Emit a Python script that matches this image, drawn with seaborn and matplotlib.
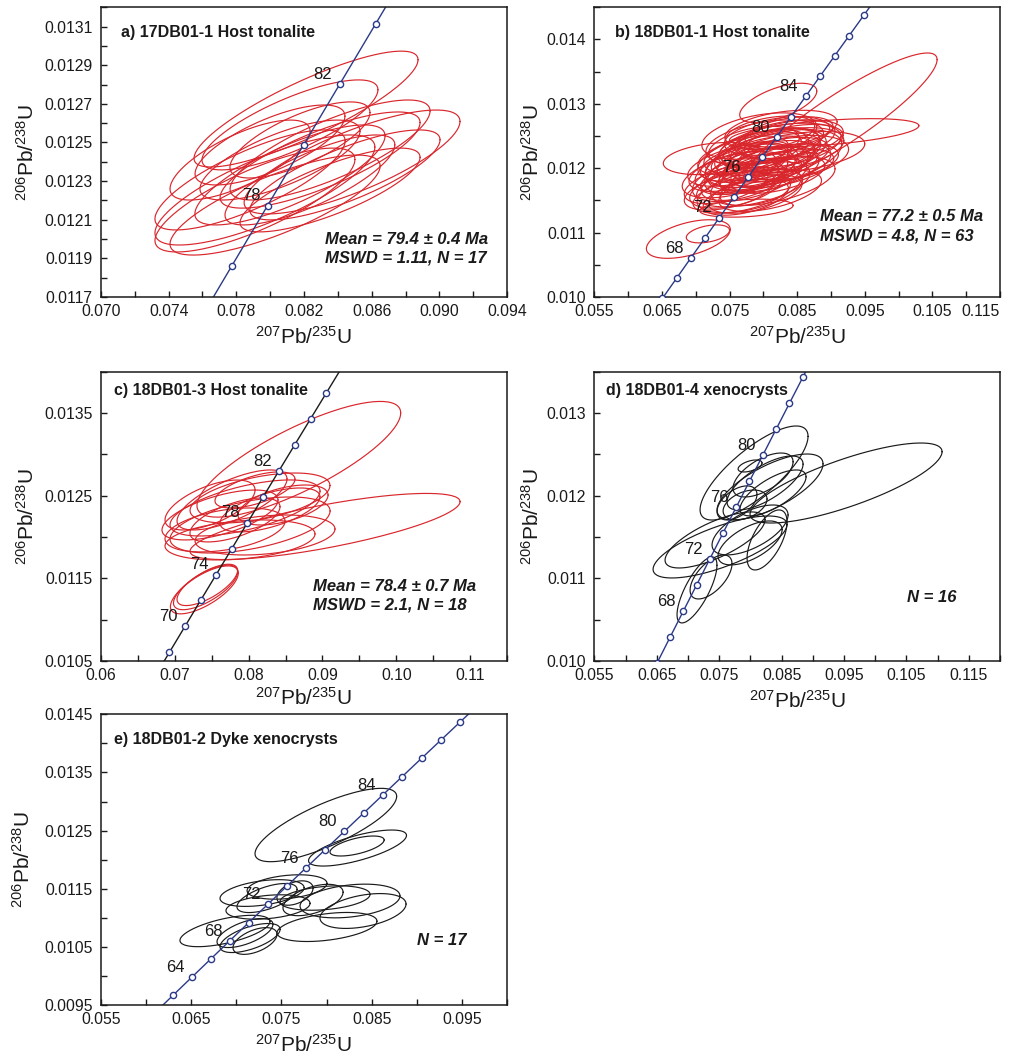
import numpy as np
import pandas as pd
import matplotlib
matplotlib.use("Agg")
import matplotlib.pyplot as plt
import seaborn as sns
from matplotlib.ticker import FixedLocator, FormatStrFormatter

# ---------------- data (ratio, 2s error, ratio, 2s error, rho) ----------------
# panel a: 17DB01-1 Host tonalite
a_x = [0.08212, 0.08117, 0.08484, 0.08354, 0.08295, 0.08117, 0.07969, 0.07910, 0.08029,
       0.07881, 0.08058, 0.08176, 0.08235, 0.08354, 0.07822, 0.07999, 0.08442]
a_sx = [0.00662, 0.00520, 0.00638, 0.00591, 0.00591, 0.00562, 0.00650, 0.00591, 0.00621,
        0.00562, 0.00473, 0.00414, 0.00502, 0.00532, 0.00414, 0.00443, 0.00562]
a_y = [0.012673, 0.012591, 0.012399, 0.012461, 0.012409, 0.012332, 0.012254, 0.012202, 0.012176,
       0.012306, 0.012409, 0.012513, 0.012306, 0.012254, 0.012409, 0.012487, 0.012332]
a_sy = [0.000300, 0.000233, 0.000269, 0.000259, 0.000249, 0.000259, 0.000285, 0.000269, 0.000259,
        0.000259, 0.000207, 0.000197, 0.000233, 0.000217, 0.000207, 0.000207, 0.000233]
a_rho = [0.85, 0.78, 0.78, 0.78, 0.78, 0.78, 0.78, 0.78, 0.78,
         0.78, 0.72, 0.72, 0.78, 0.78, 0.72, 0.72, 0.78]

# panel b: 18DB01-1 Host tonalite (63 analyses)
b_x = [0.09134, 0.0890, 0.0822, 0.0689, 0.0775, 0.0718, 0.0726,
       0.0780, 0.0795, 0.0812, 0.0770, 0.0825, 0.0805, 0.0760, 0.0790, 0.0840, 0.0815,
       0.0775, 0.0800, 0.0785, 0.0830, 0.0765, 0.0808, 0.0820, 0.0750, 0.0798, 0.0835,
       0.0772, 0.0788, 0.0818, 0.0845, 0.0758, 0.0802, 0.0782, 0.0828, 0.0768, 0.0810,
       0.0792, 0.0850, 0.0776, 0.0822, 0.0745, 0.0806, 0.0838, 0.0786, 0.0762, 0.0814,
       0.0796, 0.0832, 0.0770, 0.0804, 0.0826, 0.0780, 0.0842, 0.0755, 0.0816, 0.0794,
       0.0774, 0.0810, 0.0836, 0.0784, 0.0800, 0.0820]
b_sx = [0.01435, 0.0140, 0.0057, 0.0062, 0.0069, 0.0032, 0.0074,
        0.0067, 0.0081, 0.0073, 0.0062, 0.0090, 0.0065, 0.0069, 0.0056, 0.0078, 0.0101,
        0.0076, 0.0067, 0.0084, 0.0067, 0.0058, 0.0074, 0.0078, 0.0067, 0.0095, 0.0084,
        0.0065, 0.0069, 0.0062, 0.0073, 0.0078, 0.0087, 0.0059, 0.0076, 0.0072, 0.0066,
        0.0074, 0.0100, 0.0081, 0.0069, 0.0062, 0.0078, 0.0065, 0.0067, 0.0074, 0.0092,
        0.0060, 0.0074, 0.0067, 0.0072, 0.0083, 0.0078, 0.0069, 0.0065, 0.0067, 0.0085,
        0.0063, 0.0076, 0.0090, 0.0072, 0.0064, 0.0080]
b_y = [0.01275, 0.01255, 0.013014, 0.0109, 0.01138, 0.01098, 0.01215,
       0.01195, 0.01210, 0.01225, 0.01180, 0.01235, 0.01205, 0.01170, 0.01190, 0.01245, 0.01215,
       0.01200, 0.01230, 0.01175, 0.01220, 0.01185, 0.01195, 0.01250, 0.01165, 0.01220, 0.01230,
       0.01210, 0.01160, 0.01208, 0.01240, 0.01190, 0.01240, 0.01215, 0.01200, 0.01160, 0.01255,
       0.01200, 0.01225, 0.01185, 0.01190, 0.01175, 0.01225, 0.01255, 0.01235, 0.01205, 0.01180,
       0.01170, 0.01245, 0.01220, 0.01212, 0.01260, 0.01165, 0.01210, 0.01195, 0.01235, 0.01250,
       0.01155, 0.01165, 0.01215, 0.01225, 0.01188, 0.01205]
b_sy = [0.00104, 0.00022, 0.000306, 0.0003, 0.00014, 0.00014, 0.00025,
        0.00035, 0.00040, 0.00030, 0.00030, 0.00035, 0.00028, 0.00032, 0.00025, 0.00030, 0.00045,
        0.00038, 0.00030, 0.00035, 0.00028, 0.00026, 0.00032, 0.00030, 0.00030, 0.00042, 0.00033,
        0.00030, 0.00030, 0.00026, 0.00028, 0.00036, 0.00035, 0.00027, 0.00030, 0.00030, 0.00026,
        0.00034, 0.00032, 0.00037, 0.00029, 0.00030, 0.00036, 0.00025, 0.00030, 0.00033, 0.00038,
        0.00028, 0.00030, 0.00030, 0.00031, 0.00030, 0.00034, 0.00028, 0.00031, 0.00028, 0.00036,
        0.00028, 0.00032, 0.00036, 0.00033, 0.00027, 0.00033]
b_rho = [0.90, 0.50, 0.60, 0.50, 0.30, 0.40, 0.30,
         0.5, 0.5, 0.4, 0.5, 0.4, 0.5, 0.5, 0.4, 0.4, 0.5,
         0.5, 0.4, 0.5, 0.4, 0.5, 0.5, 0.4, 0.5, 0.5, 0.4,
         0.5, 0.5, 0.4, 0.4, 0.5, 0.4, 0.5, 0.5, 0.5, 0.4,
         0.5, 0.4, 0.5, 0.5, 0.5, 0.5, 0.4, 0.4, 0.5, 0.5,
         0.5, 0.4, 0.5, 0.5, 0.4, 0.5, 0.4, 0.5, 0.4, 0.4,
         0.5, 0.5, 0.4, 0.5, 0.5, 0.5]

# panel c: 18DB01-3 Host tonalite
c_x = [0.0868, 0.09035, 0.07417, 0.07440, 0.07400, 0.07775, 0.07951, 0.07612, 0.08154,
       0.07680, 0.08019, 0.07883, 0.08222, 0.07815, 0.08289, 0.08086, 0.07477, 0.08466]
c_sx = [0.0138, 0.01829, 0.00435, 0.00410, 0.00460, 0.00745, 0.01016, 0.00786, 0.00948,
        0.00813, 0.01084, 0.01016, 0.00948, 0.00610, 0.00677, 0.00542, 0.00610, 0.00610]
c_y = [0.01294, 0.012127, 0.01139, 0.01142, 0.01136, 0.012448, 0.012351, 0.012266, 0.012472,
       0.012085, 0.012145, 0.011964, 0.012024, 0.012206, 0.012327, 0.012569, 0.012387, 0.012387]
c_sy = [0.0007, 0.0004, 0.00027, 0.00025, 0.00029, 0.000363, 0.000339, 0.000302, 0.000302,
        0.000266, 0.000339, 0.000242, 0.000242, 0.000266, 0.000266, 0.000218, 0.000302, 0.000242]
c_rho = [0.80, 0.75, 0.70, 0.70, 0.70, 0.7, 0.6, 0.6, 0.5,
         0.4, 0.5, 0.3, 0.3, 0.6, 0.6, 0.6, 0.6, 0.5]

# panel d: 18DB01-4 xenocrysts
d_x = [0.09533, 0.08059, 0.07995, 0.07514, 0.07434, 0.07145, 0.07370, 0.07995,
       0.07995, 0.08315, 0.08235, 0.08203, 0.07915, 0.08363, 0.08267, 0.07786]
d_sx = [0.01538, 0.00865, 0.00192, 0.01073, 0.00801, 0.00320, 0.00336, 0.00609,
        0.00513, 0.00849, 0.00609, 0.00481, 0.00352, 0.00529, 0.00320, 0.00320]
d_y = [0.012153, 0.012274, 0.012359, 0.011379, 0.011464, 0.010859, 0.011016, 0.011585,
       0.011428, 0.012105, 0.012153, 0.012250, 0.011887, 0.012033, 0.011464, 0.011912]
d_sy = [0.000484, 0.000569, 0.0000726, 0.000375, 0.000339, 0.000399, 0.000266, 0.000302,
        0.000266, 0.000399, 0.000327, 0.000266, 0.000181, 0.000278, 0.000363, 0.000206]
d_rho = [0.78, 0.78, 0.5, 0.72, 0.72, 0.75, 0.6, 0.6,
         0.6, 0.7, 0.7, 0.6, 0.4, 0.7, 0.6, 0.5]

# panel e: 18DB01-2 Dyke xenocrysts
e_x = [0.07992, 0.08343, 0.08338, 0.06874, 0.07152, 0.07207, 0.07096, 0.08005, 0.08404,
       0.08260, 0.07983, 0.07285, 0.07351, 0.07562, 0.07650, 0.07340, 0.07850]
e_sx = [0.00785, 0.00543, 0.00300, 0.00499, 0.00333, 0.00244, 0.00310, 0.00554, 0.00477,
        0.00554, 0.00499, 0.00466, 0.00466, 0.00443, 0.00200, 0.00333, 0.00333]
e_y = [0.012596, 0.012200, 0.012235, 0.010773, 0.010652, 0.010601, 0.010738, 0.010842, 0.011117,
       0.011289, 0.011340, 0.011426, 0.011186, 0.011530, 0.011426, 0.011340, 0.011306]
e_sy = [0.000631, 0.000310, 0.000172, 0.000270, 0.000250, 0.000230, 0.000250, 0.000250, 0.000300,
        0.000290, 0.000210, 0.000230, 0.000210, 0.000210, 0.000210, 0.000250, 0.000270]
e_rho = [0.78, 0.7, 0.6, 0.6, 0.6, 0.5, 0.6, 0.4, 0.4,
         0.3, 0.3, 0.4, 0.3, 0.3, 0.4, 0.6, 0.5]

titles = ["a) 17DB01-1 Host tonalite", "b) 18DB01-1 Host tonalite",
          "c) 18DB01-3 Host tonalite", "d) 18DB01-4 xenocrysts",
          "e) 18DB01-2 Dyke xenocrysts"]
stats = [["Mean = 79.4 \u00b1 0.4 Ma", "MSWD = 1.11, N = 17"],
         ["Mean = 77.2 \u00b1 0.5 Ma", "MSWD = 4.8, N = 63"],
         ["Mean = 78.4 \u00b1 0.7 Ma", "MSWD = 2.1, N = 18"],
         ["N = 16"],
         ["N = 17"]]
age_labels = [[78, 82], [68, 72, 76, 80, 84], [70, 74, 78, 82], [68, 72, 76, 80],
              [64, 68, 72, 76, 80, 84]]
marker_ages = list(range(56, 100, 2))

x_major = [[0.070, 0.074, 0.078, 0.082, 0.086, 0.090, 0.094],
           [0.055, 0.065, 0.075, 0.085, 0.095, 0.105, 0.115],
           [0.06, 0.07, 0.08, 0.09, 0.10, 0.11],
           [0.055, 0.065, 0.075, 0.085, 0.095, 0.105, 0.115],
           [0.055, 0.065, 0.075, 0.085, 0.095]]
x_minor = [[0.072, 0.076, 0.080, 0.084, 0.088, 0.092],
           [0.060, 0.070, 0.080, 0.090, 0.100, 0.110],
           [0.065, 0.075, 0.085, 0.095, 0.105, 0.115],
           [0.060, 0.070, 0.080, 0.090, 0.100, 0.110, 0.120],
           [0.060, 0.070, 0.080, 0.090, 0.100]]
y_major = [[0.0117, 0.0119, 0.0121, 0.0123, 0.0125, 0.0127, 0.0129, 0.0131],
           [0.010, 0.011, 0.012, 0.013, 0.014],
           [0.0105, 0.0115, 0.0125, 0.0135],
           [0.010, 0.011, 0.012, 0.013],
           [0.0095, 0.0105, 0.0115, 0.0125, 0.0135, 0.0145]]
y_minor = [[0.0118, 0.0120, 0.0122, 0.0124, 0.0126, 0.0128, 0.0130, 0.0132],
           [0.0105, 0.0115, 0.0125, 0.0135, 0.0145],
           [0.011, 0.012, 0.013, 0.014],
           [0.0105, 0.0115, 0.0125, 0.0135],
           [0.010, 0.011, 0.012, 0.013, 0.014]]
xlims = [(0.070, 0.094), (0.055, 0.115), (0.06, 0.115), (0.055, 0.120), (0.055, 0.100)]
ylims = [(0.0117, 0.0132), (0.010, 0.0145), (0.0105, 0.0140), (0.010, 0.0135), (0.0095, 0.0145)]
x_fmt = ["%.3f", "%.3f", "%.2f", "%.3f", "%.3f"]
y_fmt = ["%.4f", "%.3f", "%.4f", "%.3f", "%.4f"]

# ---------------- style ----------------
sns.set_style("white")
plt.rcParams["font.family"] = ["Liberation Sans", "DejaVu Sans"]
plt.rcParams["mathtext.fontset"] = "custom"
plt.rcParams["mathtext.rm"] = "Liberation Sans"
plt.rcParams["mathtext.it"] = "Liberation Sans:italic"
plt.rcParams["mathtext.bf"] = "Liberation Sans:bold"
plt.rcParams["axes.edgecolor"] = "#1a1a1a"
plt.rcParams["axes.linewidth"] = 1.1

RED = "#d9262c"
NAVY = "#2b3a87"
BLACK = "#1a1a1a"
L238 = 1.55125e-10
L235 = 9.8485e-10


def ellipse_frame(xs, sxs, ys, sys_, rhos, n=160):
    t = np.linspace(0, 2 * np.pi, n)
    rows = []
    for i, (x, sx, y, sy, r) in enumerate(zip(xs, sxs, ys, sys_, rhos)):
        ex = x + sx * np.cos(t)
        ey = y + sy * (r * np.cos(t) + np.sqrt(1 - r * r) * np.sin(t))
        rows.append(pd.DataFrame({"X": ex, "Y": ey, "id": i}))
    return pd.concat(rows, ignore_index=True)


fig = plt.figure(figsize=(10.13, 10.55), dpi=100)
positions = [[0.0997, 0.7185, 0.4008, 0.2746],
             [0.5867, 0.7185, 0.4005, 0.2746],
             [0.0997, 0.3735, 0.4008, 0.2742],
             [0.5867, 0.3735, 0.4005, 0.2742],
             [0.0997, 0.0474, 0.4008, 0.2755]]
datasets = [(a_x, a_sx, a_y, a_sy, a_rho), (b_x, b_sx, b_y, b_sy, b_rho),
            (c_x, c_sx, c_y, c_sy, c_rho), (d_x, d_sx, d_y, d_sy, d_rho),
            (e_x, e_sx, e_y, e_sy, e_rho)]
ell_colors = [RED, RED, RED, BLACK, BLACK]
line_colors = [NAVY, NAVY, BLACK, NAVY, NAVY]
title_pos = [(0.049, 0.912), (0.051, 0.912), (0.033, 0.934), (0.029, 0.934), (0.033, 0.915)]
stat_pos = [(0.552, 0.200, 0.135), (0.556, 0.277, 0.211), (0.522, 0.259, 0.194),
            (0.770, 0.218, None), (0.778, 0.221, None)]
ylab_x = [-0.155, -0.126, -0.156, -0.126, -0.165]
xlab_y = [-0.10, -0.10, -0.09, -0.10, -0.10]

t_curve = np.linspace(40e6, 120e6, 400)
curve = pd.DataFrame({"X": np.exp(L235 * t_curve) - 1, "Y": np.exp(L238 * t_curve) - 1})
mk_t = np.array(marker_ages) * 1e6
marks = pd.DataFrame({"X": np.exp(L235 * mk_t) - 1, "Y": np.exp(L238 * mk_t) - 1})

for k in range(5):
    ax = fig.add_axes(positions[k])
    df = ellipse_frame(*datasets[k])
    sns.lineplot(data=df, x="X", y="Y", units="id", estimator=None, sort=False,
                 color=ell_colors[k], lw=0.85, ax=ax, legend=False)
    sns.lineplot(data=curve, x="X", y="Y", sort=False, color=line_colors[k], lw=1.0,
                 ax=ax, legend=False)
    sns.scatterplot(data=marks, x="X", y="Y", marker="o", s=20, facecolor="white",
                    edgecolor=NAVY, linewidth=1.0, ax=ax, legend=False, zorder=5)
    for age in age_labels[k]:
        tt = age * 1e6
        ax.annotate(str(age), (np.exp(L235 * tt) - 1, np.exp(L238 * tt) - 1),
                    xytext=(-12, 7), textcoords="offset points", ha="center", va="center",
                    fontsize=12, color=BLACK, zorder=6)
    ax.set_xlim(*xlims[k])
    ax.set_ylim(*ylims[k])
    ax.xaxis.set_major_locator(FixedLocator(x_major[k]))
    ax.xaxis.set_minor_locator(FixedLocator(x_minor[k]))
    ax.yaxis.set_major_locator(FixedLocator(y_major[k]))
    ax.yaxis.set_minor_locator(FixedLocator(y_minor[k]))
    ax.xaxis.set_major_formatter(FormatStrFormatter(x_fmt[k]))
    ax.yaxis.set_major_formatter(FormatStrFormatter(y_fmt[k]))
    ax.tick_params(which="both", direction="in", length=4, width=1.0, color=BLACK,
                   bottom=True, left=True, top=False, right=False)
    ax.tick_params(axis="x", which="major", labelsize=11.3, pad=5, labelcolor=BLACK)
    ax.tick_params(axis="y", which="major", labelsize=11.3, pad=6, labelcolor=BLACK)
    ax.set_xlabel("$^{207}$Pb/$^{235}$U", fontsize=15, color=BLACK)
    ax.set_ylabel("$^{206}$Pb/$^{238}$U", fontsize=15, color=BLACK)
    ax.xaxis.set_label_coords(0.5, xlab_y[k])
    ax.yaxis.set_label_coords(ylab_x[k], 0.5)
    ax.text(title_pos[k][0], title_pos[k][1], titles[k], transform=ax.transAxes,
            fontsize=11.5, fontweight="bold", ha="left", va="center", color=BLACK)
    sx_, y1, y2 = stat_pos[k]
    ax.text(sx_, y1, stats[k][0], transform=ax.transAxes, fontsize=12, fontweight="bold",
            fontstyle="italic", ha="left", va="center", color=BLACK)
    if y2 is not None:
        ax.text(sx_, y2, stats[k][1], transform=ax.transAxes, fontsize=12, fontweight="bold",
                fontstyle="italic", ha="left", va="center", color=BLACK)
    if k == 1:
        ax.get_xticklabels()[-1].set_horizontalalignment("right")

fig.savefig("out.png", dpi=100, facecolor="white")
